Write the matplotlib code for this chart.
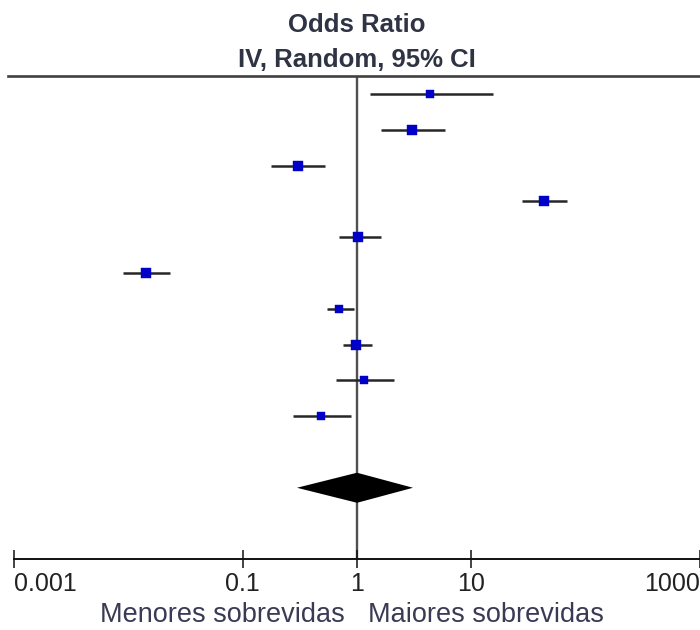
import matplotlib
matplotlib.use("Agg")
import matplotlib.pyplot as plt
import numpy as np

plt.rcParams['font.family'] = ['Liberation Sans', 'DejaVu Sans']

# odds ratios and 95% CI per study (top to bottom)
odds_ratio = [4.36, 3.03, 0.304, 43.4, 1.02, 0.0142, 0.70, 0.98, 1.15, 0.484]
ci_low = [1.30, 1.62, 0.177, 27.9, 0.70, 0.0089, 0.546, 0.754, 0.655, 0.275]
ci_high = [15.5, 5.9, 0.525, 69.0, 1.62, 0.0231, 0.94, 1.35, 2.11, 0.886]

# pooled estimate (random effects)
pooled_or = 1.0
pooled_low = 0.298
pooled_high = 3.09

tick_values = [0.001, 0.1, 1, 10, 1000]
tick_labels = ["0.001", "0.1", "1", "10", "1000"]
left_label = "Menores sobrevidas"
right_label = "Maiores sobrevidas"

# marker size in pixels (study weight)
marker_px = [8, 9, 9, 9, 9, 9, 7, 9, 7, 7]

W, H = 700, 630
fig = plt.figure(figsize=(W / 100, H / 100), dpi=100)
ax = fig.add_axes([8 / W, (H - 559) / H, 692 / W, (559 - 76) / H])
ax.set_xscale('log')
ax.set_xlim(10 ** -3.056, 10 ** 3.003)
n = len(odds_ratio)
pooled_row = n + 1
ax.set_ylim(12.99, -0.503)

ax.axvline(1, color='#505050', lw=1.7, zorder=1)

rows = np.arange(n)
for i in rows:
    ax.plot([ci_low[i], ci_high[i]], [i, i], color='#262626', lw=1.8,
            solid_capstyle='butt', zorder=2)
    ax.plot(odds_ratio[i], i, marker='s', ms=marker_px[i] * 0.75,
            color='#0000c8', mec='#0000c8', mew=0.3, zorder=3)

dh = 0.42
ax.fill([pooled_low, pooled_or, pooled_high, pooled_or],
        [pooled_row, pooled_row - dh, pooled_row, pooled_row + dh],
        color='black', lw=0, zorder=4)

for side in ['left', 'right']:
    ax.spines[side].set_visible(False)
ax.spines['top'].set_color('#404040')
ax.spines['top'].set_linewidth(1.9)
ax.spines['bottom'].set_color('#111111')
ax.spines['bottom'].set_linewidth(1.4)
ax.spines['bottom'].set_bounds(tick_values[0], tick_values[-1])

ax.set_yticks([])
ax.set_xticks(tick_values)
ax.set_xticks([], minor=True)
ax.set_xticklabels(tick_labels)
ax.tick_params(axis='x', direction='inout', length=13, width=1.1,
               color='#111111', pad=3, labelsize=18, labelcolor='#222222')
labels = ax.get_xticklabels()
labels[0].set_ha('left')
labels[-1].set_ha('right')

txt = '#3a3a55'
ax.text(0.785, -0.131, left_label, transform=ax.get_xaxis_transform(),
        ha='right', va='baseline', fontsize=19.5, color=txt)
ax.text(1.25, -0.131, right_label, transform=ax.get_xaxis_transform(),
        ha='left', va='baseline', fontsize=19.5, color=txt)

title_c = '#2e3444'
fig.text(357 / W, 1 - 32 / H, "Odds Ratio", ha='center', va='baseline',
         fontsize=18.5, fontweight='bold', color=title_c)
fig.text(357 / W, 1 - 67 / H, "IV, Random, 95% CI", ha='center', va='baseline',
         fontsize=18.5, fontweight='bold', color=title_c)

fig.savefig("out.png", dpi=100)
